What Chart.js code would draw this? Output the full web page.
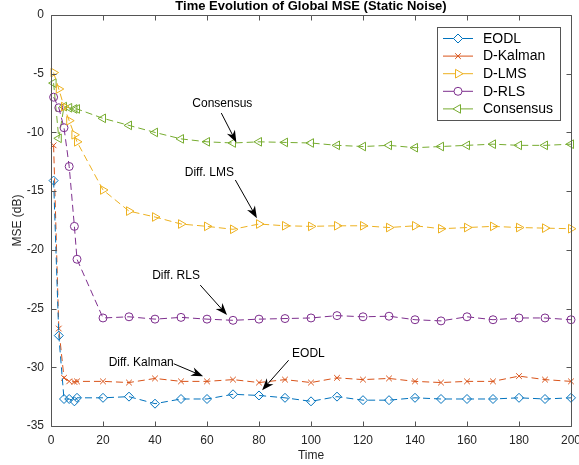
<!DOCTYPE html>
<html>
<head>
<meta charset="utf-8">
<script src="https://cdn.jsdelivr.net/npm/chart.js@4.4.1/dist/chart.umd.min.js"></script>
<style>
  html, body { margin: 0; padding: 0; background: #fff; }
  canvas { display: block; }
</style>
</head>
<body>
<canvas id="chart" width="579" height="465"></canvas>
<script>
const time = [1, 3, 5, 7, 9, 10, 20, 30, 40, 50, 60, 70, 80, 90, 100, 110, 120, 130, 140, 150, 160, 170, 180, 190, 200];
const eodl = [-14.1, -27.3, -32.7, -32.7, -32.9, -32.6, -32.6, -32.5, -33.1, -32.7, -32.7, -32.3, -32.4, -32.6, -32.9, -32.5, -32.8, -32.8, -32.6, -32.7, -32.7, -32.7, -32.6, -32.7, -32.6];
const dKalman = [-11.1, -26.7, -30.9, -31.2, -31.25, -31.2, -31.2, -31.3, -30.95, -31.2, -31.2, -31.05, -31.3, -31.05, -31.3, -30.9, -31.05, -30.95, -31.2, -31.3, -31.2, -31.2, -30.75, -31.05, -31.2];
const dLms = [-4.9, -6.3, -7.8, -9.0, -10.2, -10.8, -14.9, -16.7, -17.2, -17.8, -18.0, -18.25, -17.8, -17.95, -18.0, -17.95, -17.95, -18.1, -17.95, -18.2, -18.1, -18.0, -18.1, -18.15, -18.2];
const dRls = [-7.0, -7.9, -9.6, -12.9, -18.0, -20.8, -25.8, -25.7, -25.9, -25.75, -25.9, -26.0, -25.9, -25.85, -25.8, -25.6, -25.7, -25.65, -25.95, -26.05, -25.7, -25.95, -25.8, -25.8, -25.95];
const consensus = [-5.8, -10.5, -7.8, -7.9, -8.0, -8.0, -8.8, -9.4, -10.0, -10.55, -10.8, -10.9, -10.8, -10.85, -10.9, -11.1, -11.2, -11.1, -11.3, -11.2, -11.1, -11.0, -11.1, -11.1, -11.0];

// annotation labels: text, text position, arrow tail, arrow head (data coords)
const noteText = ["Consensus", "Diff. LMS", "Diff. RLS", "Diff. Kalman", "EODL"];
const noteAt = [[65.9, -7.55], [60.9, -13.4], [48.1, -22.2], [34.7, -29.6], [99, -28.8]];
const noteTail = [[65.5, -8.35], [70.9, -14.05], [57.4, -23.0], [47.2, -29.7], [91.4, -29.4]];
const noteHead = [[71.3, -10.85], [79.2, -17.3], [67.7, -25.55], [58.5, -30.76], [81.2, -31.95]];

const FONT = "'Liberation Sans', Arial, Helvetica, sans-serif";
Chart.defaults.font.family = FONT;

const series = [
  { label: "EODL", data: eodl, color: "#0072BD", pointStyle: "rectRot", radius: 4.5, rotation: 0 },
  { label: "D-Kalman", data: dKalman, color: "#D95319", pointStyle: "crossRot", radius: 4, rotation: 0 },
  { label: "D-LMS", data: dLms, color: "#EDB120", pointStyle: "triangle", radius: 5, rotation: 90 },
  { label: "D-RLS", data: dRls, color: "#7E2F8E", pointStyle: "circle", radius: 4, rotation: 0 },
  { label: "Consensus", data: consensus, color: "#77AC30", pointStyle: "triangle", radius: 5, rotation: -90 },
];

const decor = {
  id: "decor",
  afterDraw(chart) {
    const ctx = chart.ctx;
    const a = chart.chartArea;
    const xs = chart.scales.x, ys = chart.scales.y;
    const L = Math.round(a.left) + 0.5, R = Math.round(a.right) + 0.5;
    const T = Math.round(a.top) + 0.5, B = Math.round(a.bottom) + 0.5;
    ctx.save();

    // axes box with inward ticks on all sides
    ctx.strokeStyle = "#555";
    ctx.lineWidth = 1;
    ctx.beginPath();
    ctx.rect(L, T, R - L, B - T);
    xs.ticks.forEach(t => {
      const px = Math.round(xs.getPixelForValue(t.value)) + 0.5;
      ctx.moveTo(px, B); ctx.lineTo(px, B - 5);
      ctx.moveTo(px, T); ctx.lineTo(px, T + 5);
    });
    ys.ticks.forEach(t => {
      const py = Math.round(ys.getPixelForValue(t.value)) + 0.5;
      ctx.moveTo(L, py); ctx.lineTo(L + 5, py);
      ctx.moveTo(R, py); ctx.lineTo(R - 5, py);
    });
    ctx.stroke();

    // title
    ctx.fillStyle = "#000";
    ctx.font = "bold 13px " + FONT;
    ctx.textAlign = "center";
    ctx.textBaseline = "alphabetic";
    ctx.fillText("Time Evolution of Global MSE (Static Noise)", (a.left + a.right) / 2, 10);

    // annotations with arrows
    ctx.font = "12px " + FONT;
    ctx.textBaseline = "middle";
    noteText.forEach((txt, i) => {
      ctx.fillStyle = "#000";
      ctx.fillText(txt, xs.getPixelForValue(noteAt[i][0]), ys.getPixelForValue(noteAt[i][1]));
      const x0 = xs.getPixelForValue(noteTail[i][0]), y0 = ys.getPixelForValue(noteTail[i][1]);
      const x1 = xs.getPixelForValue(noteHead[i][0]), y1 = ys.getPixelForValue(noteHead[i][1]);
      const ang = Math.atan2(y1 - y0, x1 - x0);
      const hl = 12, hw = 4.5;
      ctx.strokeStyle = "#000";
      ctx.lineWidth = 1;
      ctx.beginPath();
      ctx.moveTo(x0, y0);
      ctx.lineTo(x1 - Math.cos(ang) * hl * 0.6, y1 - Math.sin(ang) * hl * 0.6);
      ctx.stroke();
      const bx = x1 - Math.cos(ang) * hl, by = y1 - Math.sin(ang) * hl;
      const nx = -Math.sin(ang), ny = Math.cos(ang);
      ctx.beginPath();
      ctx.moveTo(x1, y1);
      ctx.lineTo(bx + nx * hw, by + ny * hw);
      ctx.lineTo(x1 - Math.cos(ang) * hl * 0.7, y1 - Math.sin(ang) * hl * 0.7);
      ctx.lineTo(bx - nx * hw, by - ny * hw);
      ctx.closePath();
      ctx.fillStyle = "#000";
      ctx.fill();
    });

    // legend
    const lx = 437.5, ly = 27.5, lw = 123, lh = 93;
    ctx.fillStyle = "#fff";
    ctx.fillRect(lx, ly, lw, lh);
    ctx.strokeStyle = "#555";
    ctx.strokeRect(lx, ly, lw, lh);
    ctx.font = "14px " + FONT;
    ctx.textAlign = "left";
    series.forEach((s, i) => {
      const y = 38.5 + i * 17.6;
      ctx.strokeStyle = s.color;
      ctx.lineWidth = 1;
      ctx.beginPath();
      ctx.moveTo(443, y); ctx.lineTo(473, y);
      ctx.stroke();
      ctx.fillStyle = "#fff";
      Chart.helpers.drawPoint(ctx, { pointStyle: s.pointStyle, rotation: s.rotation, radius: s.radius, borderWidth: 1 }, 458, y);
      ctx.fillStyle = "#000";
      ctx.fillText(s.label, 483, y + 0.5);
    });
    ctx.restore();
  }
};

new Chart(document.getElementById("chart"), {
  type: "line",
  data: {
    datasets: series.map(s => ({
      label: s.label,
      data: time.map((t, i) => ({ x: t, y: s.data[i] })),
      borderColor: s.color,
      backgroundColor: "rgba(0,0,0,0)",
      borderWidth: 1,
      borderDash: [7, 4],
      tension: 0,
      fill: false,
      clip: false,
      pointStyle: s.pointStyle,
      pointRadius: s.radius,
      pointRotation: s.rotation,
      pointBorderColor: s.color,
      pointBackgroundColor: "rgba(0,0,0,0)",
      pointBorderWidth: 1,
    })),
  },
  options: {
    responsive: false,
    animation: false,
    events: [],
    layout: { padding: { left: 0, right: 8, top: 15, bottom: 0 } },
    plugins: { legend: { display: false }, title: { display: false }, tooltip: { enabled: false } },
    scales: {
      x: {
        type: "linear", min: 0, max: 200,
        ticks: { stepSize: 20, padding: 7, color: "#262626", font: { size: 12 }, maxRotation: 0 },
        grid: { display: false, drawTicks: false },
        border: { display: false },
        title: { display: true, text: "Time", color: "#262626", font: { size: 12 }, padding: { top: 0, bottom: 2 } },
        afterFit: s => { s.height = 39; s.paddingLeft = 0; s.paddingRight = 0; },
      },
      y: {
        type: "linear", min: -35, max: 0,
        ticks: { stepSize: 5, padding: 7, color: "#262626", font: { size: 12 } },
        grid: { display: false, drawTicks: false },
        border: { display: false },
        title: { display: true, text: "MSE (dB)", color: "#262626", font: { size: 12 }, padding: { top: 10, bottom: 0 } },
        afterFit: s => { s.width = 51; s.paddingTop = 0; s.paddingBottom = 0; },
      },
    },
  },
  plugins: [decor],
});
</script>
</body>
</html>
